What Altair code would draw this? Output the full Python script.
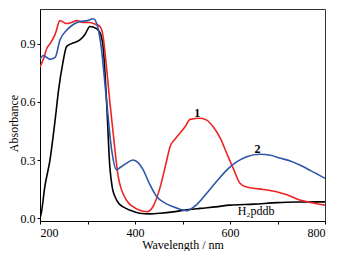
import altair as alt
import pandas as pd

# H2pddb (black)
wl_h = [200, 203, 210, 221, 232, 239, 248, 256, 265, 284, 295, 305, 318, 326, 333, 340, 347, 352, 358, 366, 375, 390, 410, 430, 453, 480, 501, 537, 570, 600, 650, 700, 750, 800]
ab_h = [0.0, 0.03, 0.16, 0.30, 0.51, 0.66, 0.80, 0.886, 0.90, 0.92, 0.95, 0.99, 0.98, 0.96, 0.88, 0.61, 0.265, 0.16, 0.11, 0.075, 0.058, 0.04, 0.025, 0.022, 0.025, 0.032, 0.04, 0.05, 0.058, 0.067, 0.072, 0.08, 0.083, 0.084]

# 1 (red)
wl_1 = [200, 207, 215, 221, 232, 242, 256, 266, 277, 290, 305, 318, 326, 332, 340, 347, 354, 365, 382, 395, 410, 425, 438, 453, 465, 474, 485, 495, 505, 516, 537, 552, 565, 580, 593, 608, 621, 635, 649, 670, 698, 720, 747, 775, 800]
ab_1 = [0.78, 0.82, 0.88, 0.90, 0.95, 1.02, 1.005, 1.01, 1.02, 1.01, 1.01, 1.0, 0.99, 0.95, 0.78, 0.60, 0.44, 0.21, 0.093, 0.06, 0.04, 0.033, 0.06, 0.16, 0.28, 0.37, 0.41, 0.44, 0.47, 0.51, 0.516, 0.505, 0.47, 0.41, 0.335, 0.25, 0.18, 0.16, 0.154, 0.148, 0.136, 0.12, 0.093, 0.078, 0.067]

# 2 (blue)
wl_2 = [200, 207, 214, 221, 232, 242, 256, 270, 284, 300, 312, 320, 328, 340, 351, 361, 368, 380, 396, 407, 417, 430, 446, 465, 481, 509, 530, 551, 572, 593, 614, 635, 663, 685, 705, 727, 747, 770, 800]
ab_2 = [0.82, 0.84, 0.83, 0.82, 0.83, 0.92, 0.97, 1.0, 1.015, 1.02, 1.03, 1.0, 0.9, 0.61, 0.35, 0.25, 0.26, 0.28, 0.30, 0.285, 0.25, 0.18, 0.11, 0.075, 0.058, 0.038, 0.07, 0.128, 0.19, 0.248, 0.29, 0.317, 0.33, 0.325, 0.31, 0.295, 0.274, 0.245, 0.205]

series_names = ["H2pddb", "1", "2"]
series_colors = ["#000000", "#ee2424", "#2b57a8"]

bold_text = ["1", "2"]
bold_wl = [531, 658]
bold_ab = [0.545, 0.355]

name_text = ["H\u2082pddb"]
name_wl = [655]
name_ab = [0.035]

rows = []
for name, xs, ys in [("H2pddb", wl_h, ab_h), ("1", wl_1, ab_1), ("2", wl_2, ab_2)]:
    for i, (x, y) in enumerate(zip(xs, ys)):
        rows.append({"series": name, "wl": x, "ab": y, "order": i})
df = pd.DataFrame(rows)

lab_b = pd.DataFrame({"text": bold_text, "wl": bold_wl, "ab": bold_ab})
lab_n = pd.DataFrame({"text": name_text, "wl": name_wl, "ab": name_ab})

SERIF = "Liberation Serif, Times New Roman, serif"

xscale = alt.Scale(domain=[200, 800], nice=False, zero=False)
yscale = alt.Scale(domain=[-0.015, 1.08], nice=False, zero=False)

xaxis = alt.Axis(
    title="Wavelength / nm",
    values=[200, 300, 400, 500, 600, 700, 800],
    labelExpr="datum.value % 200 == 0 ? datum.value : ''",
    grid=False, tickSize=3, tickColor="#000", domainColor="#000",
    labelFont=SERIF, labelFontSize=12, labelColor="#000",
    titleFont=SERIF, titleFontSize=12, titleFontWeight="normal", titleColor="#000",
    titlePadding=1, labelPadding=3,
)
yaxis = alt.Axis(
    title="Absorbance",
    values=[0, 0.15, 0.3, 0.45, 0.6, 0.75, 0.9],
    labelExpr="round(datum.value*100) % 30 == 0 ? format(datum.value, '.1f') : ''",
    grid=False, tickSize=3, tickColor="#000", domainColor="#000",
    labelFont=SERIF, labelFontSize=12, labelColor="#000",
    titleFont=SERIF, titleFontSize=12, titleFontWeight="normal", titleColor="#000",
    titlePadding=0, labelPadding=2, titleY=114,
)

lines = alt.Chart(df).mark_line(strokeWidth=1.6, interpolate="monotone", clip=True).encode(
    x=alt.X("wl:Q", scale=xscale, axis=xaxis),
    y=alt.Y("ab:Q", scale=yscale, axis=yaxis),
    color=alt.Color("series:N", scale=alt.Scale(domain=series_names, range=series_colors), legend=None),
    order="order:Q",
)

texts_b = alt.Chart(lab_b).mark_text(font=SERIF, fontSize=12, fontWeight="bold", color="#000").encode(
    x=alt.X("wl:Q", scale=xscale),
    y=alt.Y("ab:Q", scale=yscale),
    text="text:N",
)
texts_n = alt.Chart(lab_n).mark_text(font=SERIF, fontSize=12, color="#000").encode(
    x=alt.X("wl:Q", scale=xscale),
    y=alt.Y("ab:Q", scale=yscale),
    text="text:N",
)

chart = alt.layer(lines, texts_b, texts_n).properties(
    width=285, height=212,
    autosize=alt.AutoSizeParams(type="none"),
    padding={"left": 32, "top": 1, "right": 15, "bottom": 30},
    background="white",
).configure_view(stroke="#333", strokeWidth=1)

chart.save("out.html", embed_options={"renderer": "svg", "actions": False})
